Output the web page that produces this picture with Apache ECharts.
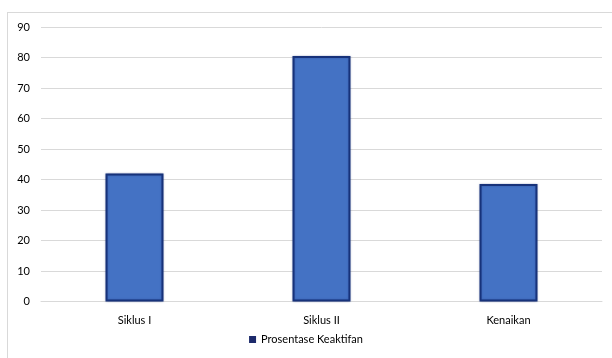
<!DOCTYPE html>
<html>
<head>
<meta charset="utf-8">
<script src="https://cdn.jsdelivr.net/npm/echarts@6/dist/echarts.min.js"></script>
<style>
  html, body { margin: 0; padding: 0; background: #fff; }
  #frame { position: absolute; left: 7px; top: 12px; width: 640px; height: 380px;
           border: 1px solid #d9d9d9; box-sizing: border-box; }
  #chart { position: absolute; left: 0; top: 0; width: 612px; height: 358px; }
</style>
</head>
<body>
<div id="frame"></div>
<div id="chart"></div>
<script>
// Activity percentage per cycle and the increase between them
const categories = ['Siklus I', 'Siklus II', 'Kenaikan'];
const keaktifan = [42, 80.5, 38.5];
const seriesName = 'Prosentase Keaktifan';

const chart = echarts.init(document.getElementById('chart'), null, { renderer: 'canvas' });
const font = 'Lato, "Open Sans", sans-serif';

chart.setOption({
  animation: false,
  grid: { left: 41, right: 10, top: 27, bottom: 56.5, containLabel: false },
  legend: {
    data: [{ name: seriesName, itemStyle: { color: '#1c2a6b', borderWidth: 0 } }],
    bottom: 8,
    left: 'center',
    itemWidth: 7,
    itemHeight: 7,
    itemGap: 4,
    icon: 'rect',
    textStyle: { fontFamily: font, fontSize: 11, color: '#000' }
  },
  xAxis: {
    type: 'category',
    data: categories,
    axisLine: { lineStyle: { color: '#d9d9d9' } },
    axisTick: { show: false },
    axisLabel: { fontFamily: font, fontSize: 11, color: '#000', margin: 13 }
  },
  yAxis: {
    type: 'value',
    min: 0,
    max: 90,
    interval: 10,
    axisLine: { show: false },
    axisTick: { show: false },
    splitLine: { lineStyle: { color: '#d9d9d9', width: 1 } },
    axisLabel: { fontFamily: font, fontSize: 11, color: '#000', margin: 11 }
  },
  series: [{
    name: seriesName,
    type: 'bar',
    data: keaktifan,
    barWidth: '31%',
    itemStyle: {
      color: '#4472c4',
      borderColor: '#17327a',
      borderWidth: 2,
      shadowColor: 'rgba(20,40,110,0.35)',
      shadowBlur: 2
    }
  }]
});
</script>
</body>
</html>
